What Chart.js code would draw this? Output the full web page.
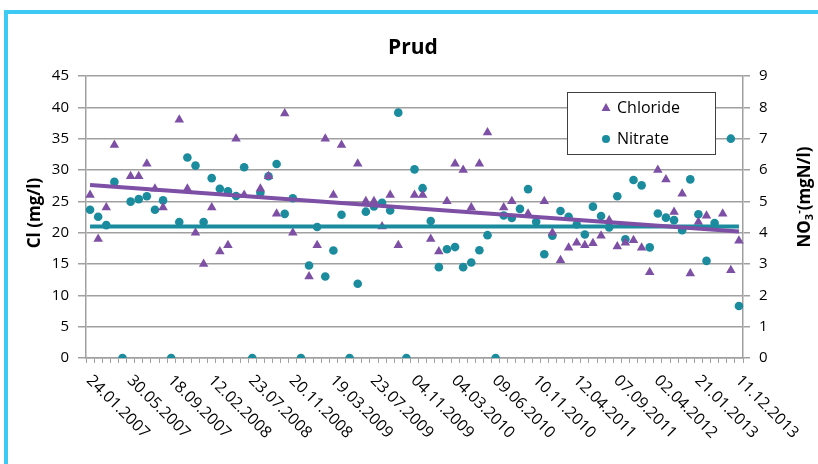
<!DOCTYPE html>
<html>
<head>
<meta charset="utf-8">
<script src="https://cdn.jsdelivr.net/npm/chart.js@4.4.1/dist/chart.umd.min.js"></script>
<style>
html, body { margin: 0; padding: 0; background: #fff; }
#wrap { position: relative; width: 818px; height: 464px; overflow: hidden; }
#chart { position: absolute; left: 0; top: 0; }
#frame { position: absolute; left: 4px; top: 10px; right: -10px; bottom: -10px;
         border-top: 4px solid #3cc9f3; border-left: 4px solid #3cc9f3; pointer-events: none; }
</style>
</head>
<body>
<div id="wrap">
  <canvas id="chart" width="818" height="464"></canvas>
  <div id="frame"></div>
</div>
<script>
// dates shown on the x axis, one every 5th sample
const tickLabels = ['24.01.2007', '30.05.2007', '18.09.2007', '12.02.2008', '23.07.2008',
    '20.11.2008', '19.03.2009', '23.07.2009', '04.11.2009', '04.03.2010', '09.06.2010',
    '10.11.2010', '12.04.2011', '07.09.2011', '02.04.2012', '21.01.2013', '11.12.2013'];
const labelStep = 5;

// Cl (mg/l), left axis
const chloride = [26, 19, 24, 34, null, 29, 29, 31, 27, 24,
    null, 38, 27, 20, 15, 24, 17, 18, 35, 26,
    null, 27, 29, 23, 39, 20, null, 13, 18, 35,
    26, 34, null, 31, 25, 25, 21, 26, 18, null,
    26, 26, 19, 17, 25, 31, 30, 24, 31, 36,
    null, 24, 25, null, 23, null, 25, 20, 15.6, 17.6,
    18.4, 18, 18.3, 19.5, 22, 17.8, 18.4, 18.8, 17.6, 13.7,
    30, 28.5, 23.3, 26.2, 13.5, 21.7, 22.7, null, 23, 14, 18.7];

// NO3- (mgN/l), right axis
const nitrate = [4.73, 4.51, 4.24, 5.62, 0, 4.99, 5.07, 5.16, 4.73, 5.03,
    0, 4.34, 6.4, 6.14, 4.34, 5.74, 5.4, 5.32, 5.17, 6.09,
    0, 5.27, 5.8, 6.19, 4.6, 5.1, 0, 2.95, 4.18, 2.6,
    3.43, 4.57, 0, 2.37, 4.67, 4.84, 4.95, 4.71, 7.83, 0,
    6.02, 5.42, 4.37, 2.9, 3.47, 3.54, 2.9, 3.05, 3.44, 3.92,
    0, 4.55, 4.47, 4.76, 5.39, 4.35, 3.31, 3.9, 4.69, 4.51,
    4.26, 3.94, 4.83, 4.53, 4.17, 5.16, 3.79, 5.68, 5.51, 3.53,
    4.61, 4.48, 4.4, 4.08, 5.7, 4.59, 3.1, 4.31, null, 7.0, 1.66];

// linear trend lines, start and end values
const chlorideTrend = [27.6, 20.2];
const nitrateTrend = [4.2, 4.2];

const purple = '#7d4fa5';
const teal = '#1b8b9e';
const gridGray = '#a0a0a0';
const font = '"Open Sans", "DejaVu Sans", sans-serif';

const categories = chloride.map((_, i) => (i % labelStep === 0 ? tickLabels[i / labelStep] : ''));
const trendSeries = ends => categories.map((_, i) =>
    i === 0 ? ends[0] : (i === categories.length - 1 ? ends[1] : null));

const drawRotated = (ctx, x, y, angle, parts) => {
    ctx.save();
    ctx.translate(x, y);
    ctx.rotate(angle);
    let total = 0;
    parts.forEach(p => { ctx.font = p.font; total += ctx.measureText(p.text).width; });
    let cx = -total / 2;
    ctx.textAlign = 'left';
    ctx.textBaseline = 'middle';
    parts.forEach(p => {
        ctx.font = p.font;
        ctx.fillText(p.text, cx, p.dy || 0);
        cx += ctx.measureText(p.text).width;
    });
    ctx.restore();
};

const decor = {
    id: 'decor',
    afterDraw(chart) {
        const { ctx } = chart;
        const x = chart.scales.x;
        ctx.save();
        ctx.fillStyle = '#000';

        ctx.font = 'bold 21px ' + font;
        ctx.textAlign = 'center';
        ctx.textBaseline = 'middle';
        ctx.fillText('Prud', 413, 48);

        // slanted date labels
        ctx.font = '16px ' + font;
        ctx.fillStyle = '#000';
        ctx.textAlign = 'left';
        ctx.textBaseline = 'middle';
        categories.forEach((lab, i) => {
            if (!lab) return;
            ctx.save();
            ctx.translate(x.getPixelForValue(i) - 1, 378);
            ctx.rotate(Math.PI / 4);
            ctx.fillText(lab, 0, 0);
            ctx.restore();
        });

        // axis titles
        ctx.fillStyle = '#000';
        drawRotated(ctx, 35, 213, -Math.PI / 2, [{ text: 'Cl (mg/l)', font: 'bold 17px ' + font }]);
        drawRotated(ctx, 805, 197, -Math.PI / 2, [
            { text: 'NO', font: 'bold 17px ' + font },
            { text: '3', font: 'bold 11px ' + font, dy: 5 },
            { text: '-', font: 'bold 11px ' + font, dy: -6 },
            { text: '(mgN/l)', font: 'bold 17px ' + font },
        ]);

        // legend box
        ctx.fillStyle = '#fff';
        ctx.fillRect(567, 92, 148, 62);
        ctx.strokeStyle = '#404040';
        ctx.lineWidth = 1;
        ctx.strokeRect(567.5, 92.5, 148, 62);
        ctx.fillStyle = purple;
        ctx.beginPath();
        ctx.moveTo(606, 103);
        ctx.lineTo(610.5, 111);
        ctx.lineTo(601.5, 111);
        ctx.closePath();
        ctx.fill();
        ctx.fillStyle = teal;
        ctx.beginPath();
        ctx.arc(606, 139, 4, 0, Math.PI * 2);
        ctx.fill();
        ctx.fillStyle = '#000';
        ctx.font = '16px ' + font;
        ctx.textAlign = 'left';
        ctx.fillText('Chloride', 617, 108);
        ctx.fillText('Nitrate', 617, 139);
        ctx.restore();
    },
};

new Chart(document.getElementById('chart'), {
    type: 'line',
    data: {
        labels: categories,
        datasets: [
            { label: 'Chloride trend', data: trendSeries(chlorideTrend), yAxisID: 'y',
              borderColor: purple, borderWidth: 4, pointRadius: 0, spanGaps: true, order: 1 },
            { label: 'Nitrate trend', data: trendSeries(nitrateTrend), yAxisID: 'y1',
              borderColor: teal, borderWidth: 4, pointRadius: 0, spanGaps: true, order: 2 },
            { label: 'Chloride', data: chloride, yAxisID: 'y', showLine: false,
              pointStyle: 'triangle', pointRadius: 5.5, pointBorderWidth: 0,
              pointBackgroundColor: purple, pointBorderColor: purple, order: 3 },
            { label: 'Nitrate', data: nitrate, yAxisID: 'y1', showLine: false,
              pointStyle: 'circle', pointRadius: 4.3, pointBorderWidth: 0,
              pointBackgroundColor: teal, pointBorderColor: teal, order: 4 },
        ],
    },
    options: {
        responsive: false,
        animation: false,
        layout: { padding: { top: 76, left: 0, right: 0, bottom: 0 } },
        plugins: { legend: { display: false }, title: { display: false }, tooltip: { enabled: false } },
        scales: {
            x: {
                offset: true,
                grid: { offset: true, drawOnChartArea: false, drawTicks: true, tickLength: 5,
                        color: gridGray, lineWidth: 1 },
                border: { display: true, color: gridGray, width: 1.5 },
                ticks: { display: false },
                afterFit: s => { s.height = 106; },
            },
            y: {
                position: 'left',
                min: 0, max: 45,
                ticks: { stepSize: 5, padding: 9, color: '#000', font: { family: font, size: 15 } },
                grid: { color: gridGray, lineWidth: 1.5, tickLength: 8 },
                border: { display: true, color: gridGray, width: 1.5 },
                afterFit: s => { s.width = 86; },
            },
            y1: {
                position: 'right',
                min: 0, max: 9,
                ticks: { stepSize: 1, padding: 9, color: '#000', font: { family: font, size: 15 } },
                grid: { drawOnChartArea: false, color: gridGray, lineWidth: 1.5, tickLength: 7 },
                border: { display: true, color: gridGray, width: 1.5 },
                afterFit: s => { s.width = 75; },
            },
        },
    },
    plugins: [decor],
});
</script>
</body>
</html>
